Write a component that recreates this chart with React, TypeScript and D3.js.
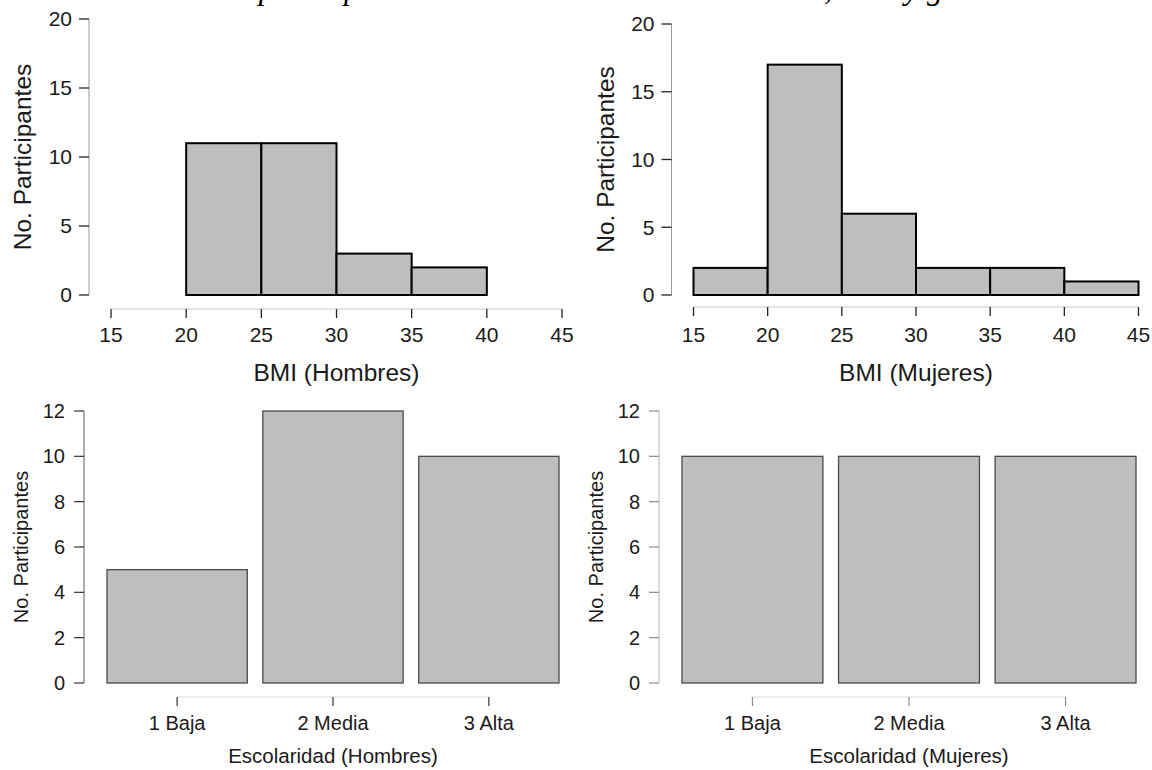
import React from "react";
import * as d3 from "d3";

// BMI histogram bins (breaks every 5 units) and counts per bin
const bmiBreaks = [15, 20, 25, 30, 35, 40, 45];
const bmiHombres = [0, 11, 11, 3, 2, 0];
const bmiMujeres = [2, 17, 6, 2, 2, 1];
const histYTicks = [0, 5, 10, 15, 20];

// Schooling level counts
const escolaridad = ["1 Baja", "2 Media", "3 Alta"];
const escHombres = [5, 12, 10];
const escMujeres = [10, 10, 10];
const barYTicks = [0, 2, 4, 6, 8, 10, 12];

const caption =
  "Frecuencia de participantes de la muestra total del estudio, sexo y género";

const SANS = "'Liberation Sans', Arial, Helvetica, sans-serif";
const SERIF = "'Liberation Serif', 'Times New Roman', serif";
const FILL = "#bebebe";
const TEXT = "#1a1a1a";

type HistProps = {
  counts: number[];
  xRange: [number, number];
  yRange: [number, number];
  yAxisX: number;
  xAxisY: number;
  yTitleX: number;
  xTitle: string;
};

function Histogram({ counts, xRange, yRange, yAxisX, xAxisY, yTitleX, xTitle }: HistProps) {
  const x = d3.scaleLinear().domain([bmiBreaks[0], bmiBreaks[bmiBreaks.length - 1]]).range(xRange);
  const y = d3.scaleLinear().domain([0, 20]).range(yRange);
  const bins = counts
    .map((c, i) => ({ c, x0: bmiBreaks[i], x1: bmiBreaks[i + 1] }))
    .filter((b) => b.c > 0);
  const yMid = (yRange[0] + yRange[1]) / 2;
  const xMid = (xRange[0] + xRange[1]) / 2;
  return (
    <g>
      {bins.map((b, i) => (
        <rect
          key={i}
          x={x(b.x0)}
          y={y(b.c)}
          width={x(b.x1) - x(b.x0)}
          height={y(0) - y(b.c)}
          fill={FILL}
          stroke="#000"
          strokeWidth={2}
        />
      ))}
      {/* y axis */}
      <line x1={yAxisX} x2={yAxisX} y1={y(0)} y2={y(20)} stroke="#9a9a9a" strokeWidth={1} />
      {histYTicks.map((t) => (
        <g key={t}>
          <line x1={yAxisX - 10} x2={yAxisX} y1={y(t)} y2={y(t)} stroke="#222" strokeWidth={1.3} />
          <text
            x={yAxisX - 17}
            y={y(t)}
            dy="0.35em"
            textAnchor="end"
            fontFamily={SANS}
            fontSize={21}
            fill={TEXT}
          >
            {t}
          </text>
        </g>
      ))}
      <text
        transform={`translate(${yTitleX},${yMid}) rotate(-90)`}
        textAnchor="middle"
        fontFamily={SANS}
        fontSize={24.5}
        fill={TEXT}
      >
        No. Participantes
      </text>
      {/* x axis */}
      <line x1={xRange[0]} x2={xRange[1]} y1={xAxisY} y2={xAxisY} stroke="#c8c8c8" strokeWidth={1} />
      {bmiBreaks.map((t) => (
        <g key={t}>
          <line x1={x(t)} x2={x(t)} y1={xAxisY} y2={xAxisY + 9} stroke="#222" strokeWidth={1.3} />
          <text x={x(t)} y={342} textAnchor="middle" fontFamily={SANS} fontSize={21} fill={TEXT}>
            {t}
          </text>
        </g>
      ))}
      <text x={xMid} y={381} textAnchor="middle" fontFamily={SANS} fontSize={24.5} fill={TEXT}>
        {xTitle}
      </text>
    </g>
  );
}

type BarProps = {
  values: number[];
  xRange: [number, number];
  yAxisX: number;
  yTitleX: number;
  xTitle: string;
  axisColor: string;
  tickColor: string;
};

function BarPanel({ values, xRange, yAxisX, yTitleX, xTitle, axisColor, tickColor }: BarProps) {
  const x = d3.scaleBand<string>().domain(escolaridad).range(xRange).paddingInner(0.1).paddingOuter(0);
  const y = d3.scaleLinear().domain([0, 12]).range([683, 411]);
  const xAxisY = 697;
  const centers = escolaridad.map((c) => (x(c) as number) + x.bandwidth() / 2);
  return (
    <g>
      {values.map((v, i) => (
        <rect
          key={i}
          x={x(escolaridad[i])}
          y={y(v)}
          width={x.bandwidth()}
          height={y(0) - y(v)}
          fill={FILL}
          stroke="#4a4a4a"
          strokeWidth={1.3}
        />
      ))}
      <line x1={yAxisX} x2={yAxisX} y1={y(0)} y2={y(12)} stroke={axisColor} strokeWidth={1} />
      {barYTicks.map((t) => (
        <g key={t}>
          <line x1={yAxisX - 10} x2={yAxisX} y1={y(t)} y2={y(t)} stroke={tickColor} strokeWidth={1.2} />
          <text
            x={yAxisX - 19}
            y={y(t)}
            dy="0.35em"
            textAnchor="end"
            fontFamily={SANS}
            fontSize={20}
            fill={TEXT}
          >
            {t}
          </text>
        </g>
      ))}
      <text
        transform={`translate(${yTitleX},${(y(0) + y(12)) / 2}) rotate(-90)`}
        textAnchor="middle"
        fontFamily={SANS}
        fontSize={20}
        fill={TEXT}
      >
        No. Participantes
      </text>
      <line
        x1={centers[0]}
        x2={centers[centers.length - 1]}
        y1={xAxisY}
        y2={xAxisY}
        stroke="#d4d8e0"
        strokeWidth={1}
      />
      {escolaridad.map((c, i) => (
        <g key={c}>
          <line x1={centers[i]} x2={centers[i]} y1={xAxisY} y2={xAxisY + 9} stroke={tickColor} strokeWidth={1.2} />
          <text x={centers[i]} y={730} textAnchor="middle" fontFamily={SANS} fontSize={20} fill={TEXT}>
            {c}
          </text>
        </g>
      ))}
      <text
        x={(centers[0] + centers[2]) / 2}
        y={763}
        textAnchor="middle"
        fontFamily={SANS}
        fontSize={20.5}
        fill={TEXT}
      >
        {xTitle}
      </text>
    </g>
  );
}

export default function App() {
  return (
    <svg
      width={1152}
      height={770}
      style={{ position: "absolute", left: 0, top: 0, background: "#fff" }}
    >
      <rect width={1152} height={770} fill="#fff" />
      <text x={68} y={-1} fontFamily={SERIF} fontStyle="italic" fontSize={32} fill="#000">
        {caption}
      </text>
      <Histogram
        counts={bmiHombres}
        xRange={[111, 562]}
        yRange={[295, 19]}
        yAxisX={89}
        xAxisY={309}
        yTitleX={31}
        xTitle="BMI (Hombres)"
      />
      <Histogram
        counts={bmiMujeres}
        xRange={[693.5, 1138.5]}
        yRange={[295, 24]}
        yAxisX={671.5}
        xAxisY={307}
        yTitleX={614}
        xTitle="BMI (Mujeres)"
      />
      <BarPanel
        values={escHombres}
        xRange={[107, 559]}
        yAxisX={84}
        yTitleX={28}
        xTitle="Escolaridad (Hombres)"
        axisColor="#5a5a5a"
        tickColor="#333"
      />
      <BarPanel
        values={escMujeres}
        xRange={[682, 1136]}
        yAxisX={659}
        yTitleX={603}
        xTitle="Escolaridad (Mujeres)"
        axisColor="#b4b4b4"
        tickColor="#8a8a8a"
      />
    </svg>
  );
}
